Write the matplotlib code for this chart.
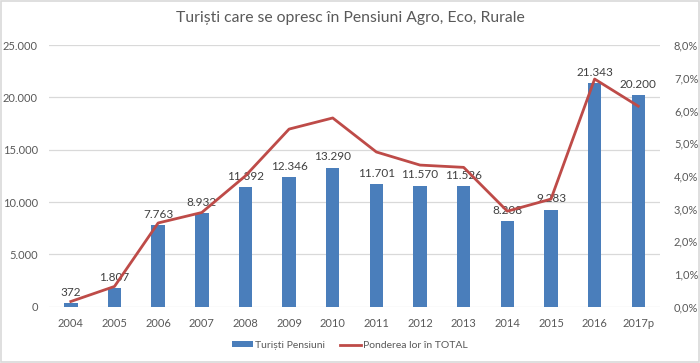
import numpy as np
import matplotlib.pyplot as plt
from matplotlib.patches import Rectangle
from matplotlib.ticker import FuncFormatter

plt.rcParams['font.family'] = ['Lato', 'DejaVu Sans']

# ── Data ─────────────────────────────────────────────────────────────────────
years = ['2004', '2005', '2006', '2007', '2008', '2009', '2010',
         '2011', '2012', '2013', '2014', '2015', '2016', '2017p']
turisti = [372, 1807, 7763, 8932, 11392, 12346, 13290,
           11701, 11570, 11526, 8208, 9283, 21343, 20200]
pondere = [0.16, 0.62, 2.56, 2.88, 4.0, 5.43, 5.77,
           4.73, 4.33, 4.26, 2.92, 3.29, 6.96, 6.13]   # %

BAR = '#4a7ebb'
LINE = '#be4b48'
TXT = '#595959'
GRID = '#d9d9d9'

fig = plt.figure(figsize=(7, 3.63), dpi=100)
fig.patches.append(Rectangle((0.001, 0.002), 0.997, 0.995, transform=fig.transFigure,
                             fill=False, edgecolor=GRID, linewidth=1.2))

ax = fig.add_axes([0.07, 0.155, 0.873, 0.721])
x = np.arange(len(years))
ax.bar(x, turisti, width=0.31, color=BAR, zorder=2, label='Turiști Pensiuni')
for xi, v in zip(x, turisti):
    ax.text(xi, v + 500, f'{v:,}'.replace(',', '.'), ha='center', va='bottom',
            fontsize=8.5, color='#404040', zorder=4)

ax.set_ylim(0, 25000)
ax.set_yticks(range(0, 25001, 5000))
ax.yaxis.set_major_formatter(FuncFormatter(lambda v, p: f'{int(v):,}'.replace(',', '.')))
ax.set_xlim(-0.5, len(years) - 0.5)
ax.set_xticks(x)
ax.set_xticklabels(years)
ax.grid(axis='y', color=GRID, linewidth=0.9, zorder=0)
ax.set_axisbelow(True)
for s in ax.spines.values():
    s.set_visible(False)
ax.tick_params(length=0, colors=TXT, labelsize=8)
ax.tick_params(axis='y', pad=8)
ax.tick_params(axis='x', pad=8)

ax2 = ax.twinx()
ax2.plot(x, pondere, color=LINE, linewidth=2, zorder=3, label='Ponderea lor în TOTAL')
ax2.set_ylim(0, 8)
ax2.set_yticks(range(0, 9))
ax2.yaxis.set_major_formatter(FuncFormatter(lambda v, p: f'{v:.1f}%'.replace('.', ',')))
for s in ax2.spines.values():
    s.set_visible(False)
ax2.tick_params(length=0, colors=TXT, labelsize=8, pad=10)

fig.text(0.5, 0.95, 'Turiști care se opresc în Pensiuni Agro, Eco, Rurale',
         ha='center', va='center', fontsize=11.3, color=TXT)

h1, l1 = ax.get_legend_handles_labels()
h2, l2 = ax2.get_legend_handles_labels()
fig.legend(h1 + h2, l1 + l2, loc='center', bbox_to_anchor=(0.5, 0.048), ncol=2,
           frameon=False, fontsize=7.5, labelcolor=TXT, handlelength=2.0,
           handleheight=0.5, columnspacing=1.4, handletextpad=0.2)

fig.savefig('out.png', dpi=100)
